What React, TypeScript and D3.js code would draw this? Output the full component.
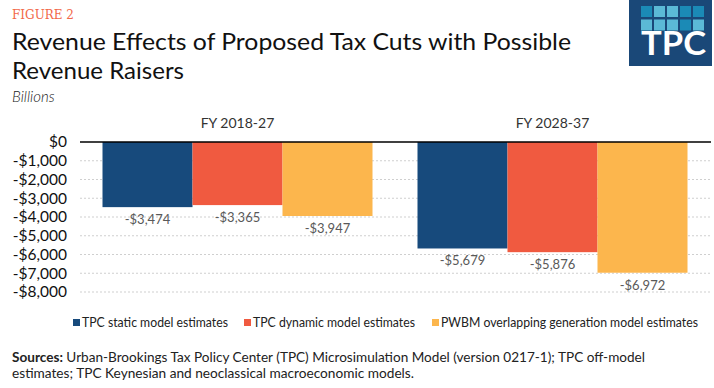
import React from 'react';
import * as d3 from 'd3';

const periods = ['FY 2018-27', 'FY 2028-37'];
const seriesNames = [
  'TPC static model estimates',
  'TPC dynamic model estimates',
  'PWBM overlapping generation model estimates',
];
const staticEst = [-3474, -5679];
const dynamicEst = [-3365, -5876];
const pwbmEst = [-3947, -6972];
const yTicks = [0, -1000, -2000, -3000, -4000, -5000, -6000, -7000, -8000];
const colors = ['#174a7c', '#f05a40', '#fcb64d'];

const W = 714;
const H = 388;
const font = 'Lato, "Open Sans", sans-serif';

const fmt = (v: number) => (v < 0 ? '-$' : '$') + d3.format(',')(Math.abs(v));

const App = () => {
  const values = [staticEst, dynamicEst, pwbmEst];
  const margin = { top: 142, right: 4, bottom: 96, left: 80 };

  const y = d3.scaleLinear().domain([-8000, 0]).range([292, 142]);
  const x0 = d3
    .scaleBand()
    .domain(periods)
    .range([margin.left, 710])
    .paddingInner(1 / 7)
    .paddingOuter(1 / 14);
  const x1 = d3
    .scaleBand()
    .domain(seriesNames)
    .range([0, x0.bandwidth()])
    .padding(0);

  const legendX = [73, 244, 432];
  const legendLen = [146, 162, 257];

  // logo squares: 1 = dark teal, 0 = light
  const logoRows = [
    [1, 0, 0, 1, 1],
    [0, 0, 0, 1, 0],
  ];

  return (
    <svg width={W} height={H} style={{ position: 'absolute', left: 0, top: 0, background: '#fff' }}>
      <text x={12} y={19} fontFamily='"DejaVu Serif", "Liberation Serif", serif' fontSize={12} fill='#f26849' textLength={62} lengthAdjust='spacingAndGlyphs'>
        FIGURE 2
      </text>
      <text x={12} y={50} fontFamily={font} fontSize={23} fill='#111' textLength={559} lengthAdjust='spacingAndGlyphs'>
        Revenue Effects of Proposed Tax Cuts with Possible
      </text>
      <text x={12} y={79} fontFamily={font} fontSize={23} fill='#111' textLength={172} lengthAdjust='spacingAndGlyphs'>
        Revenue Raisers
      </text>
      <text x={12} y={102} fontFamily={font} fontWeight={300} fontSize={15} fontStyle='italic' fill='#222'>
        Billions
      </text>

      {/* logo */}
      <g>
        <rect x={629} y={0} width={83} height={66} fill='#1a4878' />
        {logoRows.map((row, r) =>
          row.map((c, i) => (
            <rect
              key={`${r}-${i}`}
              x={641 + i * 13}
              y={6 + r * 13.5}
              width={11}
              height={11}
              fill={c ? '#1b8ab6' : '#5bb9d6'}
            />
          ))
        )}
        <text x={641} y={55} fontFamily={font} fontWeight='bold' fontSize={32} fill='#fff' textLength={65} lengthAdjust='spacingAndGlyphs'>
          TPC
        </text>
      </g>

      {/* grid */}
      {yTicks.map((t) => (
        <g key={t}>
          {t !== 0 && (
            <line x1={margin.left} x2={711} y1={y(t)} y2={y(t)} stroke='#cfcfcf' strokeDasharray='2,2' />
          )}
          <text x={67} y={y(t)} dy='0.35em' textAnchor='end' fontFamily={font} fontSize={15.5} fill='#111'>
            {fmt(t)}
          </text>
        </g>
      ))}

      {/* category labels */}
      {periods.map((p) => (
        <text key={p} x={x0(p)! + x0.bandwidth() / 2} y={123} dy='0.35em' textAnchor='middle' fontFamily={font} fontSize={14} fill='#333'>
          {p}
        </text>
      ))}

      {/* bars */}
      {periods.map((p, gi) =>
        seriesNames.map((s, si) => {
          const v = values[si][gi];
          const bx = x0(p)! + x1(s)!;
          return (
            <g key={`${p}-${s}`}>
              <rect x={bx} y={y(0)} width={x1.bandwidth()} height={y(v) - y(0)} fill={colors[si]} />
              <text x={bx + x1.bandwidth() / 2} y={y(v) + 17} textAnchor='middle' fontFamily={font} fontSize={13} fill='#595959'>
                {fmt(v)}
              </text>
            </g>
          );
        })
      )}

      <line x1={margin.left} x2={711} y1={y(0)} y2={y(0)} stroke='#000' strokeWidth={1.5} />

      {/* legend */}
      {seriesNames.map((s, i) => (
        <g key={s}>
          <rect x={legendX[i]} y={319} width={7} height={7} fill={colors[i]} />
          <text x={legendX[i] + 9} y={327} fontFamily={font} fontSize={12.5} fill='#222' textLength={legendLen[i]} lengthAdjust='spacingAndGlyphs'>
            {s}
          </text>
        </g>
      ))}

      {/* sources */}
      <text x={12} y={362} fontFamily={font} fontSize={12.5} fill='#222' textLength={633} lengthAdjust='spacingAndGlyphs'>
        <tspan fontWeight='bold'>Sources:</tspan> Urban-Brookings Tax Policy Center (TPC) Microsimulation Model (version 0217-1);  TPC off-model
      </text>
      <text x={12} y={378} fontFamily={font} fontSize={12.5} fill='#222' textLength={402} lengthAdjust='spacingAndGlyphs'>
        estimates; TPC Keynesian and neoclassical macroeconomic models.
      </text>
    </svg>
  );
};

export default App;
